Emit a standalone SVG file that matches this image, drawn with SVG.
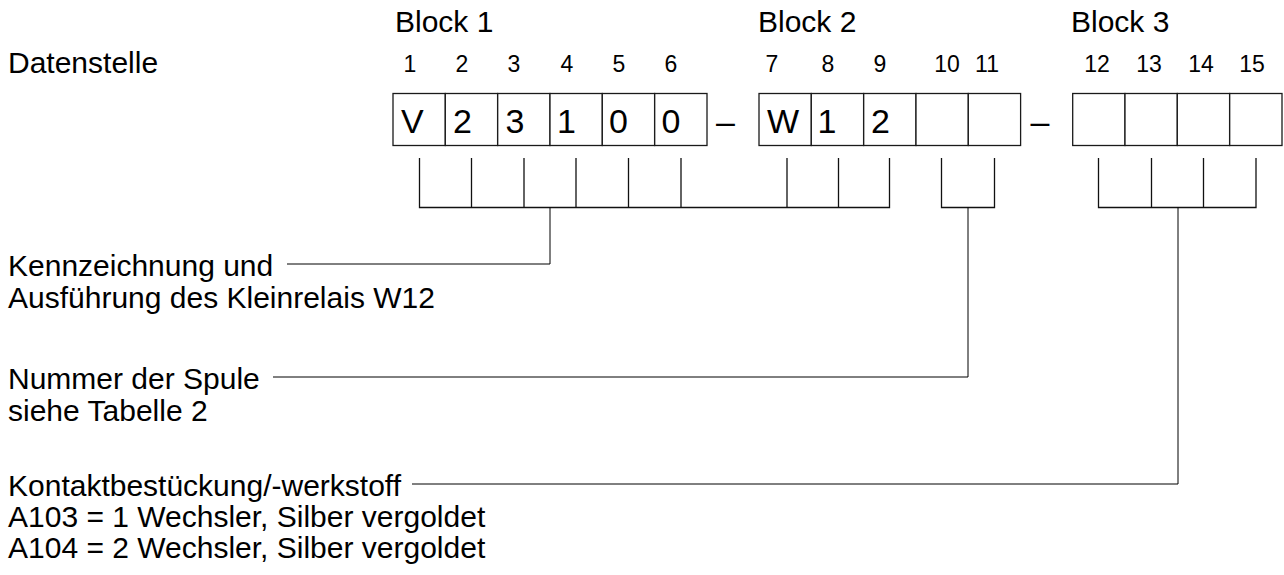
<svg xmlns="http://www.w3.org/2000/svg" width="1284" height="575" viewBox="0 0 1284 575">
<style>
text{font-family:"Liberation Sans",Arial,sans-serif;fill:#000}
.lbl{font-size:30px}
.num{font-size:23px;text-anchor:middle}
.ch{font-size:34px}
.cell{fill:#fff;stroke:#1a1a1a;stroke-width:1.3}
.br{fill:none;stroke:#111;stroke-width:1.3}
.ld{fill:none;stroke:#000;stroke-width:1}
</style>
<rect width="1284" height="575" fill="#fff"/>
<g id="header">
<text class="lbl" x="8" y="73">Datenstelle</text>
<text class="lbl" x="395" y="32">Block 1</text>
<text class="lbl" x="758" y="32">Block 2</text>
<text class="lbl" x="1071" y="32">Block 3</text>
</g>
<g id="positions">
<text class="num" x="410" y="72">1</text>
<text class="num" x="462" y="72">2</text>
<text class="num" x="514" y="72">3</text>
<text class="num" x="567" y="72">4</text>
<text class="num" x="619" y="72">5</text>
<text class="num" x="671" y="72">6</text>
<text class="num" x="772" y="72">7</text>
<text class="num" x="828" y="72">8</text>
<text class="num" x="880" y="72">9</text>
<text class="num" x="947" y="72">10</text>
<text class="num" x="987" y="72">11</text>
<text class="num" x="1097" y="72">12</text>
<text class="num" x="1149" y="72">13</text>
<text class="num" x="1201" y="72">14</text>
<text class="num" x="1252" y="72">15</text>
</g>
<g id="block1">
<rect class="cell" x="393" y="93.5" width="52.3" height="52"/>
<rect class="cell" x="445.3" y="93.5" width="52.3" height="52"/>
<rect class="cell" x="497.7" y="93.5" width="52.3" height="52"/>
<rect class="cell" x="550" y="93.5" width="52.3" height="52"/>
<rect class="cell" x="602.3" y="93.5" width="52.3" height="52"/>
<rect class="cell" x="654.7" y="93.5" width="52.3" height="52"/>
<text class="ch" x="401" y="133">V</text>
<text class="ch" x="453" y="133">2</text>
<text class="ch" x="505.5" y="133">3</text>
<text class="ch" x="557" y="133">1</text>
<text class="ch" x="609" y="133">0</text>
<text class="ch" x="661.5" y="133">0</text>
</g>
<text id="dash1" class="ch" x="716" y="133">–</text>
<g id="block2">
<rect class="cell" x="759" y="93.5" width="52.3" height="52"/>
<rect class="cell" x="811.3" y="93.5" width="52.3" height="52"/>
<rect class="cell" x="863.7" y="93.5" width="52.3" height="52"/>
<rect class="cell" x="916" y="93.5" width="52.3" height="52"/>
<rect class="cell" x="968.3" y="93.5" width="52.3" height="52"/>
<text class="ch" x="767" y="133">W</text>
<text class="ch" x="817.5" y="133">1</text>
<text class="ch" x="871" y="133">2</text>
</g>
<text id="dash2" class="ch" x="1030.5" y="133">–</text>
<g id="block3">
<rect class="cell" x="1072.7" y="93.5" width="52.3" height="52"/>
<rect class="cell" x="1125" y="93.5" width="52.3" height="52"/>
<rect class="cell" x="1177.3" y="93.5" width="52.3" height="52"/>
<rect class="cell" x="1229.7" y="93.5" width="52.3" height="52"/>
</g>
<g id="connectors">
<path class="br" d="M419.5 158V207.5H889.5V158M471.5 158V207.5M524 158V207.5M576 158V207.5M628.5 158V207.5M681 158V207.5M787 158V207.5M838.5 158V207.5"/>
<path class="br" d="M941.5 158V207.5H994.5V158"/>
<path class="br" d="M1098.5 158V207.5H1256V158M1151.5 158V207.5M1203.5 158V207.5"/>
<path class="ld" d="M550 207.5V264H287"/>
<path class="ld" d="M968 207.5V377H273"/>
<path class="ld" d="M1178 207.5V484H412"/>
</g>
<g id="label1">
<text class="lbl" x="8" y="276">Kennzeichnung und</text>
<text class="lbl" x="8" y="308">Ausführung des Kleinrelais W12</text>
</g>
<g id="label2">
<text class="lbl" x="8" y="389">Nummer der Spule</text>
<text class="lbl" x="8" y="421">siehe Tabelle 2</text>
</g>
<g id="label3">
<text class="lbl" x="8" y="496">Kontaktbestückung/-werkstoff</text>
<text class="lbl" x="8" y="527">A103 = 1 Wechsler, Silber vergoldet</text>
<text class="lbl" x="8" y="558">A104 = 2 Wechsler, Silber vergoldet</text>
</g>
</svg>
